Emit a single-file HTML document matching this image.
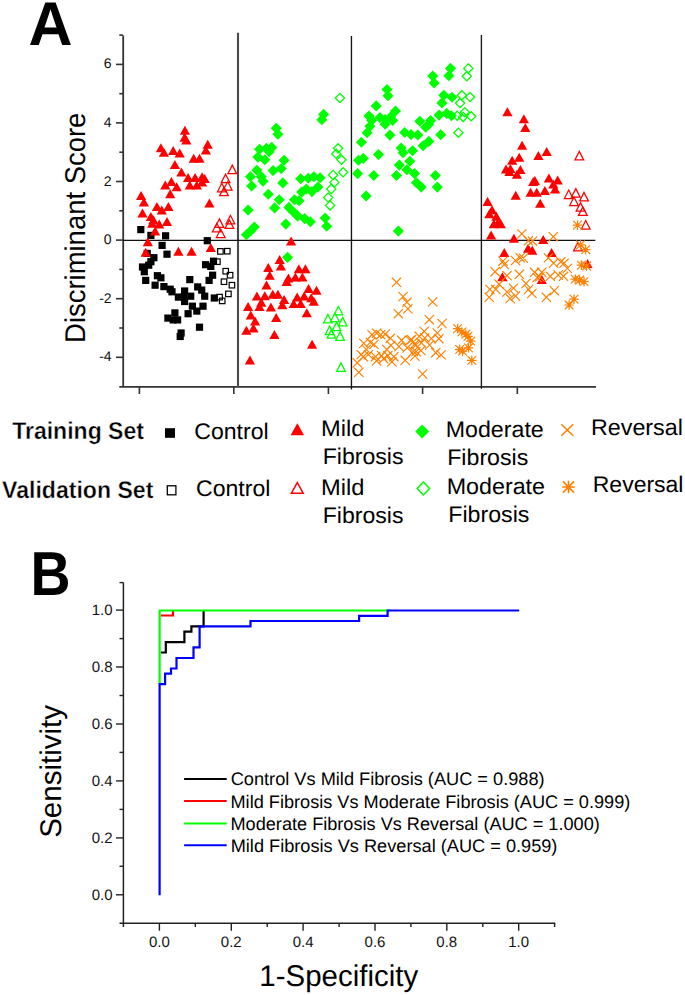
<!DOCTYPE html>
<html><head><meta charset="utf-8"><style>
html,body{margin:0;padding:0;background:#fff;}
svg{display:block;}
text{font-family:"Liberation Sans",sans-serif;fill:#000;text-rendering:geometricPrecision;}
.t13{font-size:14px;fill:#111;}
.t15{font-size:15px;fill:#111;}
.lb{font-size:22.6px;font-weight:bold;}
.lr{font-size:22.2px;}
.l16{font-size:16.6px;}
.l27{font-size:27.6px;}
.l28{font-size:28px;}
.l29{font-size:29px;}
.big{font-size:58px;font-weight:bold;}
</style></head><body>
<svg width="685" height="995" viewBox="0 0 685 995">
<rect width="685" height="995" fill="#fff"/>
<path d="M123.2 35.4V387" stroke="#333" stroke-width="1.8" fill="none"/><path d="M119.3 386.8H596" stroke="#333" stroke-width="1.8" fill="none"/><path d="M116 357.3H123" stroke="#333" stroke-width="1.6"/><path d="M116 298.7H123" stroke="#333" stroke-width="1.6"/><path d="M116 240.1H123" stroke="#333" stroke-width="1.6"/><path d="M116 181.5H123" stroke="#333" stroke-width="1.6"/><path d="M116 122.9H123" stroke="#333" stroke-width="1.6"/><path d="M116 64.4H123" stroke="#333" stroke-width="1.6"/><path d="M119.3 328.0H123" stroke="#333" stroke-width="1.6"/><path d="M119.3 269.4H123" stroke="#333" stroke-width="1.6"/><path d="M119.3 210.8H123" stroke="#333" stroke-width="1.6"/><path d="M119.3 152.2H123" stroke="#333" stroke-width="1.6"/><path d="M119.3 93.7H123" stroke="#333" stroke-width="1.6"/><path d="M119.3 35.1H123" stroke="#333" stroke-width="1.6"/><path d="M139.4 387V394" stroke="#333" stroke-width="1.6"/><path d="M233.8 387V394" stroke="#333" stroke-width="1.6"/><path d="M328.4 387V394" stroke="#333" stroke-width="1.6"/><path d="M422.6 387V394" stroke="#333" stroke-width="1.6"/><path d="M517.3 387V394" stroke="#333" stroke-width="1.6"/><path d="M238 32.7V387" stroke="#4a4a4a" stroke-width="2.1"/><path d="M351.45 35.9V389.6" stroke="#151515" stroke-width="1.35"/><path d="M481.4 35.1V388.8" stroke="#1e1e1e" stroke-width="1.4"/><path d="M123 240.4H595.3" stroke="#111" stroke-width="1.3"/>
<text x="111.6" y="361.3" text-anchor="end" class="t13">-4</text><text x="111.6" y="302.7" text-anchor="end" class="t13">-2</text><text x="111.6" y="244.2" text-anchor="end" class="t13">0</text><text x="111.6" y="185.6" text-anchor="end" class="t13">2</text><text x="111.6" y="127.0" text-anchor="end" class="t13">4</text><text x="111.6" y="68.4" text-anchor="end" class="t13">6</text>
<rect x="143.60" y="249.80" width="7.2" height="7.2" fill="#000"/><rect x="137.20" y="226.00" width="7.2" height="7.2" fill="#000"/><rect x="147.30" y="231.80" width="7.2" height="7.2" fill="#000"/><rect x="162.00" y="232.20" width="7.2" height="7.2" fill="#000"/><rect x="203.70" y="237.10" width="7.2" height="7.2" fill="#000"/><rect x="158.50" y="241.80" width="7.2" height="7.2" fill="#000"/><rect x="163.40" y="250.60" width="7.2" height="7.2" fill="#000"/><rect x="150.30" y="254.10" width="7.2" height="7.2" fill="#000"/><rect x="147.30" y="258.10" width="7.2" height="7.2" fill="#000"/><rect x="145.10" y="261.60" width="7.2" height="7.2" fill="#000"/><rect x="138.90" y="263.40" width="7.2" height="7.2" fill="#000"/><rect x="140.70" y="268.10" width="7.2" height="7.2" fill="#000"/><rect x="202.00" y="261.10" width="7.2" height="7.2" fill="#000"/><rect x="207.20" y="262.80" width="7.2" height="7.2" fill="#000"/><rect x="209.90" y="257.60" width="7.2" height="7.2" fill="#000"/><rect x="209.00" y="271.60" width="7.2" height="7.2" fill="#000"/><rect x="205.50" y="276.80" width="7.2" height="7.2" fill="#000"/><rect x="142.10" y="276.80" width="7.2" height="7.2" fill="#000"/><rect x="153.80" y="272.10" width="7.2" height="7.2" fill="#000"/><rect x="157.30" y="274.20" width="7.2" height="7.2" fill="#000"/><rect x="186.20" y="276.00" width="7.2" height="7.2" fill="#000"/><rect x="151.50" y="281.60" width="7.2" height="7.2" fill="#000"/><rect x="160.30" y="283.00" width="7.2" height="7.2" fill="#000"/><rect x="166.60" y="285.60" width="7.2" height="7.2" fill="#000"/><rect x="168.40" y="288.20" width="7.2" height="7.2" fill="#000"/><rect x="194.10" y="283.30" width="7.2" height="7.2" fill="#000"/><rect x="198.10" y="286.50" width="7.2" height="7.2" fill="#000"/><rect x="181.00" y="287.40" width="7.2" height="7.2" fill="#000"/><rect x="174.80" y="293.50" width="7.2" height="7.2" fill="#000"/><rect x="180.10" y="293.50" width="7.2" height="7.2" fill="#000"/><rect x="187.10" y="292.60" width="7.2" height="7.2" fill="#000"/><rect x="201.10" y="292.60" width="7.2" height="7.2" fill="#000"/><rect x="181.00" y="297.90" width="7.2" height="7.2" fill="#000"/><rect x="188.80" y="302.60" width="7.2" height="7.2" fill="#000"/><rect x="193.20" y="307.50" width="7.2" height="7.2" fill="#000"/><rect x="199.40" y="302.60" width="7.2" height="7.2" fill="#000"/><rect x="184.50" y="310.10" width="7.2" height="7.2" fill="#000"/><rect x="171.30" y="309.30" width="7.2" height="7.2" fill="#000"/><rect x="164.30" y="314.50" width="7.2" height="7.2" fill="#000"/><rect x="169.60" y="316.30" width="7.2" height="7.2" fill="#000"/><rect x="174.00" y="316.30" width="7.2" height="7.2" fill="#000"/><rect x="195.90" y="323.60" width="7.2" height="7.2" fill="#000"/><rect x="177.50" y="329.40" width="7.2" height="7.2" fill="#000"/><rect x="176.60" y="332.90" width="7.2" height="7.2" fill="#000"/><rect x="210.70" y="294.40" width="7.2" height="7.2" fill="#000"/><rect x="217.65" y="248.65" width="5.50" height="5.50" fill="none" stroke="#000" stroke-width="1.2"/><rect x="224.55" y="248.45" width="5.50" height="5.50" fill="none" stroke="#000" stroke-width="1.2"/><rect x="214.65" y="258.95" width="5.50" height="5.50" fill="none" stroke="#000" stroke-width="1.2"/><rect x="222.95" y="268.45" width="5.50" height="5.50" fill="none" stroke="#000" stroke-width="1.2"/><rect x="227.35" y="272.45" width="5.50" height="5.50" fill="none" stroke="#000" stroke-width="1.2"/><rect x="221.25" y="278.95" width="5.50" height="5.50" fill="none" stroke="#000" stroke-width="1.2"/><rect x="229.15" y="282.45" width="5.50" height="5.50" fill="none" stroke="#000" stroke-width="1.2"/><rect x="225.65" y="291.15" width="5.50" height="5.50" fill="none" stroke="#000" stroke-width="1.2"/><rect x="216.85" y="294.35" width="5.50" height="5.50" fill="none" stroke="#000" stroke-width="1.2"/><rect x="219.45" y="298.15" width="5.50" height="5.50" fill="none" stroke="#000" stroke-width="1.2"/><path d="M184.90 125.80L190.00 134.80L179.80 134.80Z" fill="#ff0000"/><path d="M184.60 132.80L189.70 141.80L179.50 141.80Z" fill="#ff0000"/><path d="M186.30 135.40L191.40 144.40L181.20 144.40Z" fill="#ff0000"/><path d="M160.90 143.30L166.00 152.30L155.80 152.30Z" fill="#ff0000"/><path d="M163.90 147.70L169.00 156.70L158.80 156.70Z" fill="#ff0000"/><path d="M173.20 146.00L178.30 155.00L168.10 155.00Z" fill="#ff0000"/><path d="M179.70 148.60L184.80 157.60L174.60 157.60Z" fill="#ff0000"/><path d="M207.70 139.80L212.80 148.80L202.60 148.80Z" fill="#ff0000"/><path d="M205.90 145.40L211.00 154.40L200.80 154.40Z" fill="#ff0000"/><path d="M193.70 153.80L198.80 162.80L188.60 162.80Z" fill="#ff0000"/><path d="M199.50 153.80L204.60 162.80L194.40 162.80Z" fill="#ff0000"/><path d="M174.90 160.00L180.00 169.00L169.80 169.00Z" fill="#ff0000"/><path d="M181.40 167.50L186.50 176.50L176.30 176.50Z" fill="#ff0000"/><path d="M188.10 173.10L193.20 182.10L183.00 182.10Z" fill="#ff0000"/><path d="M195.10 173.10L200.20 182.10L190.00 182.10Z" fill="#ff0000"/><path d="M202.10 172.20L207.20 181.20L197.00 181.20Z" fill="#ff0000"/><path d="M204.70 174.00L209.80 183.00L199.60 183.00Z" fill="#ff0000"/><path d="M189.80 180.50L194.90 189.50L184.70 189.50Z" fill="#ff0000"/><path d="M196.80 180.50L201.90 189.50L191.70 189.50Z" fill="#ff0000"/><path d="M202.10 177.50L207.20 186.50L197.00 186.50Z" fill="#ff0000"/><path d="M171.40 177.00L176.50 186.00L166.30 186.00Z" fill="#ff0000"/><path d="M165.30 180.50L170.40 189.50L160.20 189.50Z" fill="#ff0000"/><path d="M176.70 182.20L181.80 191.20L171.60 191.20Z" fill="#ff0000"/><path d="M170.20 189.20L175.30 198.20L165.10 198.20Z" fill="#ff0000"/><path d="M141.10 191.00L146.20 200.00L136.00 200.00Z" fill="#ff0000"/><path d="M143.90 197.60L149.00 206.60L138.80 206.60Z" fill="#ff0000"/><path d="M209.40 198.50L214.50 207.50L204.30 207.50Z" fill="#ff0000"/><path d="M156.90 202.00L162.00 211.00L151.80 211.00Z" fill="#ff0000"/><path d="M161.80 205.50L166.90 214.50L156.70 214.50Z" fill="#ff0000"/><path d="M168.40 202.00L173.50 211.00L163.30 211.00Z" fill="#ff0000"/><path d="M142.50 208.50L147.60 217.50L137.40 217.50Z" fill="#ff0000"/><path d="M150.90 212.00L156.00 221.00L145.80 221.00Z" fill="#ff0000"/><path d="M153.40 215.20L158.50 224.20L148.30 224.20Z" fill="#ff0000"/><path d="M152.20 218.70L157.30 227.70L147.10 227.70Z" fill="#ff0000"/><path d="M159.20 219.50L164.30 228.50L154.10 228.50Z" fill="#ff0000"/><path d="M167.00 216.90L172.10 225.90L161.90 225.90Z" fill="#ff0000"/><path d="M155.10 226.50L160.20 235.50L150.00 235.50Z" fill="#ff0000"/><path d="M147.80 237.20L152.90 246.20L142.70 246.20Z" fill="#ff0000"/><path d="M145.70 247.70L150.80 256.70L140.60 256.70Z" fill="#ff0000"/><path d="M178.40 246.80L183.50 255.80L173.30 255.80Z" fill="#ff0000"/><path d="M191.60 246.80L196.70 255.80L186.50 255.80Z" fill="#ff0000"/><path d="M210.80 243.00L215.90 252.00L205.70 252.00Z" fill="#ff0000"/><path d="M232.30 165.10L236.65 173.60L227.95 173.60Z" fill="none" stroke="#ff0000" stroke-width="1.25"/><path d="M225.60 174.20L229.95 182.70L221.25 182.70Z" fill="none" stroke="#ff0000" stroke-width="1.25"/><path d="M227.70 181.50L232.05 190.00L223.35 190.00Z" fill="none" stroke="#ff0000" stroke-width="1.25"/><path d="M221.80 183.30L226.15 191.80L217.45 191.80Z" fill="none" stroke="#ff0000" stroke-width="1.25"/><path d="M224.00 187.10L228.35 195.60L219.65 195.60Z" fill="none" stroke="#ff0000" stroke-width="1.25"/><path d="M230.40 215.30L234.75 223.80L226.05 223.80Z" fill="none" stroke="#ff0000" stroke-width="1.25"/><path d="M219.40 218.90L223.75 227.40L215.05 227.40Z" fill="none" stroke="#ff0000" stroke-width="1.25"/><path d="M229.40 219.90L233.75 228.40L225.05 228.40Z" fill="none" stroke="#ff0000" stroke-width="1.25"/><path d="M216.80 223.30L221.15 231.80L212.45 231.80Z" fill="none" stroke="#ff0000" stroke-width="1.25"/><path d="M220.70 229.00L225.05 237.50L216.35 237.50Z" fill="none" stroke="#ff0000" stroke-width="1.25"/><path d="M323.60 108.85L329.15 114.40L323.60 119.95L318.05 114.40Z" fill="#00ff00"/><path d="M321.80 114.25L327.35 119.80L321.80 125.35L316.25 119.80Z" fill="#00ff00"/><path d="M276.20 122.65L281.75 128.20L276.20 133.75L270.65 128.20Z" fill="#00ff00"/><path d="M277.90 128.75L283.45 134.30L277.90 139.85L272.35 134.30Z" fill="#00ff00"/><path d="M259.50 143.65L265.05 149.20L259.50 154.75L253.95 149.20Z" fill="#00ff00"/><path d="M266.50 142.75L272.05 148.30L266.50 153.85L260.95 148.30Z" fill="#00ff00"/><path d="M271.80 141.85L277.35 147.40L271.80 152.95L266.25 147.40Z" fill="#00ff00"/><path d="M269.20 146.25L274.75 151.80L269.20 157.35L263.65 151.80Z" fill="#00ff00"/><path d="M257.80 151.55L263.35 157.10L257.80 162.65L252.25 157.10Z" fill="#00ff00"/><path d="M264.80 154.15L270.35 159.70L264.80 165.25L259.25 159.70Z" fill="#00ff00"/><path d="M284.10 154.65L289.65 160.20L284.10 165.75L278.55 160.20Z" fill="#00ff00"/><path d="M256.90 164.65L262.45 170.20L256.90 175.75L251.35 170.20Z" fill="#00ff00"/><path d="M273.10 165.05L278.65 170.60L273.10 176.15L267.55 170.60Z" fill="#00ff00"/><path d="M281.20 163.05L286.75 168.60L281.20 174.15L275.65 168.60Z" fill="#00ff00"/><path d="M250.40 171.15L255.95 176.70L250.40 182.25L244.85 176.70Z" fill="#00ff00"/><path d="M261.30 171.15L266.85 176.70L261.30 182.25L255.75 176.70Z" fill="#00ff00"/><path d="M263.00 175.75L268.55 181.30L263.00 186.85L257.45 181.30Z" fill="#00ff00"/><path d="M251.60 180.45L257.15 186.00L251.60 191.55L246.05 186.00Z" fill="#00ff00"/><path d="M282.80 177.35L288.35 182.90L282.80 188.45L277.25 182.90Z" fill="#00ff00"/><path d="M300.70 173.25L306.25 178.80L300.70 184.35L295.15 178.80Z" fill="#00ff00"/><path d="M308.30 172.75L313.85 178.30L308.30 183.85L302.75 178.30Z" fill="#00ff00"/><path d="M313.90 171.25L319.45 176.80L313.90 182.35L308.35 176.80Z" fill="#00ff00"/><path d="M320.10 172.25L325.65 177.80L320.10 183.35L314.55 177.80Z" fill="#00ff00"/><path d="M318.00 181.45L323.55 187.00L318.00 192.55L312.45 187.00Z" fill="#00ff00"/><path d="M311.90 186.05L317.45 191.60L311.90 197.15L306.35 191.60Z" fill="#00ff00"/><path d="M306.30 183.45L311.85 189.00L306.30 194.55L300.75 189.00Z" fill="#00ff00"/><path d="M301.70 186.55L307.25 192.10L301.70 197.65L296.15 192.10Z" fill="#00ff00"/><path d="M268.30 188.65L273.85 194.20L268.30 199.75L262.75 194.20Z" fill="#00ff00"/><path d="M279.20 194.15L284.75 199.70L279.20 205.25L273.65 199.70Z" fill="#00ff00"/><path d="M294.50 194.15L300.05 199.70L294.50 205.25L288.95 199.70Z" fill="#00ff00"/><path d="M299.10 195.25L304.65 200.80L299.10 206.35L293.55 200.80Z" fill="#00ff00"/><path d="M274.60 202.35L280.15 207.90L274.60 213.45L269.05 207.90Z" fill="#00ff00"/><path d="M288.90 201.85L294.45 207.40L288.90 212.95L283.35 207.40Z" fill="#00ff00"/><path d="M293.50 206.45L299.05 212.00L293.50 217.55L287.95 212.00Z" fill="#00ff00"/><path d="M297.60 210.55L303.15 216.10L297.60 221.65L292.05 216.10Z" fill="#00ff00"/><path d="M304.70 213.05L310.25 218.60L304.70 224.15L299.15 218.60Z" fill="#00ff00"/><path d="M310.40 216.15L315.95 221.70L310.40 227.25L304.85 221.70Z" fill="#00ff00"/><path d="M285.80 218.55L291.35 224.10L285.80 229.65L280.25 224.10Z" fill="#00ff00"/><path d="M325.20 212.55L330.75 218.10L325.20 223.65L319.65 218.10Z" fill="#00ff00"/><path d="M326.70 220.75L332.25 226.30L326.70 231.85L321.15 226.30Z" fill="#00ff00"/><path d="M248.10 204.55L253.65 210.10L248.10 215.65L242.55 210.10Z" fill="#00ff00"/><path d="M254.30 221.45L259.85 227.00L254.30 232.55L248.75 227.00Z" fill="#00ff00"/><path d="M250.80 225.25L256.35 230.80L250.80 236.35L245.25 230.80Z" fill="#00ff00"/><path d="M246.40 229.15L251.95 234.70L246.40 240.25L240.85 234.70Z" fill="#00ff00"/><path d="M287.60 251.85L293.15 257.40L287.60 262.95L282.05 257.40Z" fill="#00ff00"/><path d="M339.90 93.40L344.50 98.00L339.90 102.60L335.30 98.00Z" fill="none" stroke="#00ff00" stroke-width="1.3"/><path d="M338.10 143.70L342.70 148.30L338.10 152.90L333.50 148.30Z" fill="none" stroke="#00ff00" stroke-width="1.3"/><path d="M336.30 149.20L340.90 153.80L336.30 158.40L331.70 153.80Z" fill="none" stroke="#00ff00" stroke-width="1.3"/><path d="M341.50 155.20L346.10 159.80L341.50 164.40L336.90 159.80Z" fill="none" stroke="#00ff00" stroke-width="1.3"/><path d="M343.10 167.70L347.70 172.30L343.10 176.90L338.50 172.30Z" fill="none" stroke="#00ff00" stroke-width="1.3"/><path d="M333.10 170.40L337.70 175.00L333.10 179.60L328.50 175.00Z" fill="none" stroke="#00ff00" stroke-width="1.3"/><path d="M334.40 177.80L339.00 182.40L334.40 187.00L329.80 182.40Z" fill="none" stroke="#00ff00" stroke-width="1.3"/><path d="M331.30 184.40L335.90 189.00L331.30 193.60L326.70 189.00Z" fill="none" stroke="#00ff00" stroke-width="1.3"/><path d="M328.20 192.90L332.80 197.50L328.20 202.10L323.60 197.50Z" fill="none" stroke="#00ff00" stroke-width="1.3"/><path d="M330.10 200.80L334.70 205.40L330.10 210.00L325.50 205.40Z" fill="none" stroke="#00ff00" stroke-width="1.3"/><path d="M291.10 236.60L296.20 245.60L286.00 245.60Z" fill="#ff0000"/><path d="M279.70 255.00L284.80 264.00L274.60 264.00Z" fill="#ff0000"/><path d="M280.90 261.50L286.00 270.50L275.80 270.50Z" fill="#ff0000"/><path d="M268.30 262.90L273.40 271.90L263.20 271.90Z" fill="#ff0000"/><path d="M269.70 270.80L274.80 279.80L264.60 279.80Z" fill="#ff0000"/><path d="M298.90 264.30L304.00 273.30L293.80 273.30Z" fill="#ff0000"/><path d="M305.40 264.30L310.50 273.30L300.30 273.30Z" fill="#ff0000"/><path d="M295.40 272.50L300.50 281.50L290.30 281.50Z" fill="#ff0000"/><path d="M302.40 272.50L307.50 281.50L297.30 281.50Z" fill="#ff0000"/><path d="M288.40 273.40L293.50 282.40L283.30 282.40Z" fill="#ff0000"/><path d="M286.70 276.90L291.80 285.90L281.60 285.90Z" fill="#ff0000"/><path d="M266.50 280.40L271.60 289.40L261.40 289.40Z" fill="#ff0000"/><path d="M308.60 283.90L313.70 292.90L303.50 292.90Z" fill="#ff0000"/><path d="M316.50 285.70L321.60 294.70L311.40 294.70Z" fill="#ff0000"/><path d="M256.90 291.60L262.00 300.60L251.80 300.60Z" fill="#ff0000"/><path d="M264.80 291.20L269.90 300.20L259.70 300.20Z" fill="#ff0000"/><path d="M272.70 289.80L277.80 298.80L267.60 298.80Z" fill="#ff0000"/><path d="M277.90 289.80L283.00 298.80L272.80 298.80Z" fill="#ff0000"/><path d="M284.10 295.10L289.20 304.10L279.00 304.10Z" fill="#ff0000"/><path d="M297.20 292.50L302.30 301.50L292.10 301.50Z" fill="#ff0000"/><path d="M304.20 291.60L309.30 300.60L299.10 300.60Z" fill="#ff0000"/><path d="M311.20 293.30L316.30 302.30L306.10 302.30Z" fill="#ff0000"/><path d="M313.80 296.80L318.90 305.80L308.70 305.80Z" fill="#ff0000"/><path d="M261.30 297.70L266.40 306.70L256.20 306.70Z" fill="#ff0000"/><path d="M259.50 302.10L264.60 311.10L254.40 311.10Z" fill="#ff0000"/><path d="M270.90 302.40L276.00 311.40L265.80 311.40Z" fill="#ff0000"/><path d="M282.30 300.30L287.40 309.30L277.20 309.30Z" fill="#ff0000"/><path d="M293.70 298.90L298.80 307.90L288.60 307.90Z" fill="#ff0000"/><path d="M300.70 298.90L305.80 307.90L295.60 307.90Z" fill="#ff0000"/><path d="M248.10 302.10L253.20 311.10L243.00 311.10Z" fill="#ff0000"/><path d="M250.80 310.50L255.90 319.50L245.70 319.50Z" fill="#ff0000"/><path d="M255.10 316.50L260.20 325.50L250.00 325.50Z" fill="#ff0000"/><path d="M253.40 323.50L258.50 332.50L248.30 332.50Z" fill="#ff0000"/><path d="M246.40 325.70L251.50 334.70L241.30 334.70Z" fill="#ff0000"/><path d="M276.20 313.00L281.30 322.00L271.10 322.00Z" fill="#ff0000"/><path d="M306.80 308.20L311.90 317.20L301.70 317.20Z" fill="#ff0000"/><path d="M274.40 330.10L279.50 339.10L269.30 339.10Z" fill="#ff0000"/><path d="M312.10 339.80L317.20 348.80L307.00 348.80Z" fill="#ff0000"/><path d="M249.90 355.50L255.00 364.50L244.80 364.50Z" fill="#ff0000"/><path d="M338.40 306.30L342.75 314.80L334.05 314.80Z" fill="none" stroke="#00ff00" stroke-width="1.25"/><path d="M327.90 314.40L332.25 322.90L323.55 322.90Z" fill="none" stroke="#00ff00" stroke-width="1.25"/><path d="M334.90 313.00L339.25 321.50L330.55 321.50Z" fill="none" stroke="#00ff00" stroke-width="1.25"/><path d="M342.70 317.40L347.05 325.90L338.35 325.90Z" fill="none" stroke="#00ff00" stroke-width="1.25"/><path d="M336.60 322.10L340.95 330.60L332.25 330.60Z" fill="none" stroke="#00ff00" stroke-width="1.25"/><path d="M329.60 326.10L333.95 334.60L325.25 334.60Z" fill="none" stroke="#00ff00" stroke-width="1.25"/><path d="M331.40 329.70L335.75 338.20L327.05 338.20Z" fill="none" stroke="#00ff00" stroke-width="1.25"/><path d="M340.10 331.90L344.45 340.40L335.75 340.40Z" fill="none" stroke="#00ff00" stroke-width="1.25"/><path d="M341.00 362.90L345.35 371.40L336.65 371.40Z" fill="none" stroke="#00ff00" stroke-width="1.25"/><path d="M450.50 62.85L456.05 68.40L450.50 73.95L444.95 68.40Z" fill="#00ff00"/><path d="M448.80 70.25L454.35 75.80L448.80 81.35L443.25 75.80Z" fill="#00ff00"/><path d="M432.70 70.45L438.25 76.00L432.70 81.55L427.15 76.00Z" fill="#00ff00"/><path d="M434.10 77.45L439.65 83.00L434.10 88.55L428.55 83.00Z" fill="#00ff00"/><path d="M443.80 89.75L449.35 95.30L443.80 100.85L438.25 95.30Z" fill="#00ff00"/><path d="M452.00 91.75L457.55 97.30L452.00 102.85L446.45 97.30Z" fill="#00ff00"/><path d="M442.00 97.35L447.55 102.90L442.00 108.45L436.45 102.90Z" fill="#00ff00"/><path d="M439.10 109.55L444.65 115.10L439.10 120.65L433.55 115.10Z" fill="#00ff00"/><path d="M446.70 107.85L452.25 113.40L446.70 118.95L441.15 113.40Z" fill="#00ff00"/><path d="M451.40 110.15L456.95 115.70L451.40 121.25L445.85 115.70Z" fill="#00ff00"/><path d="M419.80 115.65L425.35 121.20L419.80 126.75L414.25 121.20Z" fill="#00ff00"/><path d="M430.60 115.05L436.15 120.60L430.60 126.15L425.05 120.60Z" fill="#00ff00"/><path d="M425.60 121.65L431.15 127.20L425.60 132.75L420.05 127.20Z" fill="#00ff00"/><path d="M428.60 119.05L434.15 124.60L428.60 130.15L423.05 124.60Z" fill="#00ff00"/><path d="M404.70 126.95L410.25 132.50L404.70 138.05L399.15 132.50Z" fill="#00ff00"/><path d="M411.00 129.05L416.55 134.60L411.00 140.15L405.45 134.60Z" fill="#00ff00"/><path d="M417.80 129.45L423.35 135.00L417.80 140.55L412.25 135.00Z" fill="#00ff00"/><path d="M440.70 129.25L446.25 134.80L440.70 140.35L435.15 134.80Z" fill="#00ff00"/><path d="M387.00 83.95L392.55 89.50L387.00 95.05L381.45 89.50Z" fill="#00ff00"/><path d="M388.00 90.25L393.55 95.80L388.00 101.35L382.45 95.80Z" fill="#00ff00"/><path d="M376.20 100.35L381.75 105.90L376.20 111.45L370.65 105.90Z" fill="#00ff00"/><path d="M369.00 110.55L374.55 116.10L369.00 121.65L363.45 116.10Z" fill="#00ff00"/><path d="M371.80 114.95L377.35 120.50L371.80 126.05L366.25 120.50Z" fill="#00ff00"/><path d="M369.90 120.65L375.45 126.20L369.90 131.75L364.35 126.20Z" fill="#00ff00"/><path d="M367.10 127.25L372.65 132.80L367.10 138.35L361.55 132.80Z" fill="#00ff00"/><path d="M361.40 136.75L366.95 142.30L361.40 147.85L355.85 142.30Z" fill="#00ff00"/><path d="M380.00 112.05L385.55 117.60L380.00 123.15L374.45 117.60Z" fill="#00ff00"/><path d="M385.10 113.95L390.65 119.50L385.10 125.05L379.55 119.50Z" fill="#00ff00"/><path d="M385.10 118.75L390.65 124.30L385.10 129.85L379.55 124.30Z" fill="#00ff00"/><path d="M392.70 114.95L398.25 120.50L392.70 126.05L387.15 120.50Z" fill="#00ff00"/><path d="M395.50 105.45L401.05 111.00L395.50 116.55L389.95 111.00Z" fill="#00ff00"/><path d="M390.80 111.15L396.35 116.70L390.80 122.25L385.25 116.70Z" fill="#00ff00"/><path d="M389.90 129.55L395.45 135.10L389.90 140.65L384.35 135.10Z" fill="#00ff00"/><path d="M428.80 135.85L434.35 141.40L428.80 146.95L423.25 141.40Z" fill="#00ff00"/><path d="M423.10 140.15L428.65 145.70L423.10 151.25L417.55 145.70Z" fill="#00ff00"/><path d="M412.60 145.25L418.15 150.80L412.60 156.35L407.05 150.80Z" fill="#00ff00"/><path d="M401.20 142.45L406.75 148.00L401.20 153.55L395.65 148.00Z" fill="#00ff00"/><path d="M403.10 147.15L408.65 152.70L403.10 158.25L397.55 152.70Z" fill="#00ff00"/><path d="M378.50 149.05L384.05 154.60L378.50 160.15L372.95 154.60Z" fill="#00ff00"/><path d="M363.30 152.85L368.85 158.40L363.30 163.95L357.75 158.40Z" fill="#00ff00"/><path d="M358.50 154.75L364.05 160.30L358.50 165.85L352.95 160.30Z" fill="#00ff00"/><path d="M357.60 168.05L363.15 173.60L357.60 179.15L352.05 173.60Z" fill="#00ff00"/><path d="M373.70 169.95L379.25 175.50L373.70 181.05L368.15 175.50Z" fill="#00ff00"/><path d="M396.50 169.95L402.05 175.50L396.50 181.05L390.95 175.50Z" fill="#00ff00"/><path d="M399.30 159.55L404.85 165.10L399.30 170.65L393.75 165.10Z" fill="#00ff00"/><path d="M406.90 164.25L412.45 169.80L406.90 175.35L401.35 169.80Z" fill="#00ff00"/><path d="M409.80 155.75L415.35 161.30L409.80 166.85L404.25 161.30Z" fill="#00ff00"/><path d="M414.50 168.05L420.05 173.60L414.50 179.15L408.95 173.60Z" fill="#00ff00"/><path d="M435.40 169.95L440.95 175.50L435.40 181.05L429.85 175.50Z" fill="#00ff00"/><path d="M366.10 190.45L371.65 196.00L366.10 201.55L360.55 196.00Z" fill="#00ff00"/><path d="M416.40 177.15L421.95 182.70L416.40 188.25L410.85 182.70Z" fill="#00ff00"/><path d="M421.20 181.55L426.75 187.10L421.20 192.65L415.65 187.10Z" fill="#00ff00"/><path d="M437.30 181.55L442.85 187.10L437.30 192.65L431.75 187.10Z" fill="#00ff00"/><path d="M398.40 225.55L403.95 231.10L398.40 236.65L392.85 231.10Z" fill="#00ff00"/><path d="M468.30 63.80L472.90 68.40L468.30 73.00L463.70 68.40Z" fill="none" stroke="#00ff00" stroke-width="1.3"/><path d="M466.80 71.70L471.40 76.30L466.80 80.90L462.20 76.30Z" fill="none" stroke="#00ff00" stroke-width="1.3"/><path d="M461.90 90.70L466.50 95.30L461.90 99.90L457.30 95.30Z" fill="none" stroke="#00ff00" stroke-width="1.3"/><path d="M470.10 92.40L474.70 97.00L470.10 101.60L465.50 97.00Z" fill="none" stroke="#00ff00" stroke-width="1.3"/><path d="M460.10 98.50L464.70 103.10L460.10 107.70L455.50 103.10Z" fill="none" stroke="#00ff00" stroke-width="1.3"/><path d="M464.80 107.60L469.40 112.20L464.80 116.80L460.20 112.20Z" fill="none" stroke="#00ff00" stroke-width="1.3"/><path d="M457.20 111.10L461.80 115.70L457.20 120.30L452.60 115.70Z" fill="none" stroke="#00ff00" stroke-width="1.3"/><path d="M463.10 112.30L467.70 116.90L463.10 121.50L458.50 116.90Z" fill="none" stroke="#00ff00" stroke-width="1.3"/><path d="M471.20 111.70L475.80 116.30L471.20 120.90L466.60 116.30Z" fill="none" stroke="#00ff00" stroke-width="1.3"/><path d="M458.40 128.10L463.00 132.70L458.40 137.30L453.80 132.70Z" fill="none" stroke="#00ff00" stroke-width="1.3"/><g stroke="#ff8000" stroke-width="1.15" stroke-linecap="round" fill="none"><path d="M392.20 278.00L400.80 286.60M400.80 278.00L392.20 286.60"/><path d="M398.80 292.30L407.40 300.90M407.40 292.30L398.80 300.90"/><path d="M402.60 298.00L411.20 306.60M411.20 298.00L402.60 306.60"/><path d="M403.60 304.60L412.20 313.20M412.20 304.60L403.60 313.20"/><path d="M394.10 309.40L402.70 318.00M402.70 309.40L394.10 318.00"/><path d="M428.30 297.60L436.90 306.20M436.90 297.60L428.30 306.20"/><path d="M425.00 315.40L433.60 324.00M433.60 315.40L425.00 324.00"/><path d="M437.70 319.20L446.30 327.80M446.30 319.20L437.70 327.80"/><path d="M418.30 369.70L426.90 378.30M426.90 369.70L418.30 378.30"/><path d="M354.50 368.00L363.10 376.60M363.10 368.00L354.50 376.60"/><path d="M352.90 358.50L361.50 367.10M361.50 358.50L352.90 367.10"/><path d="M359.50 339.10L368.10 347.70M368.10 339.10L359.50 347.70"/><path d="M367.70 330.40L376.30 339.00M376.30 330.40L367.70 339.00"/><path d="M372.30 328.90L380.90 337.50M380.90 328.90L372.30 337.50"/><path d="M381.00 329.90L389.60 338.50M389.60 329.90L381.00 338.50"/><path d="M376.40 330.40L385.00 339.00M385.00 330.40L376.40 339.00"/><path d="M386.10 334.00L394.70 342.60M394.70 334.00L386.10 342.60"/><path d="M366.10 338.10L374.70 346.70M374.70 338.10L366.10 346.70"/><path d="M369.70 340.10L378.30 348.70M378.30 340.10L369.70 348.70"/><path d="M362.00 345.20L370.60 353.80M370.60 345.20L362.00 353.80"/><path d="M356.90 350.30L365.50 358.90M365.50 350.30L356.90 358.90"/><path d="M359.00 352.40L367.60 361.00M367.60 352.40L359.00 361.00"/><path d="M364.10 350.30L372.70 358.90M372.70 350.30L364.10 358.90"/><path d="M371.20 352.40L379.80 361.00M379.80 352.40L371.20 361.00"/><path d="M372.30 356.50L380.90 365.10M380.90 356.50L372.30 365.10"/><path d="M377.40 351.40L386.00 360.00M386.00 351.40L377.40 360.00"/><path d="M382.50 345.20L391.10 353.80M391.10 345.20L382.50 353.80"/><path d="M379.40 354.40L388.00 363.00M388.00 354.40L379.40 363.00"/><path d="M383.50 351.40L392.10 360.00M392.10 351.40L383.50 360.00"/><path d="M387.60 357.50L396.20 366.10M396.20 357.50L387.60 366.10"/><path d="M389.60 352.40L398.20 361.00M398.20 352.40L389.60 361.00"/><path d="M386.60 341.10L395.20 349.70M395.20 341.10L386.60 349.70"/><path d="M397.30 336.00L405.90 344.60M405.90 336.00L397.30 344.60"/><path d="M394.70 342.20L403.30 350.80M403.30 342.20L394.70 350.80"/><path d="M400.90 356.00L409.50 364.60M409.50 356.00L400.90 364.60"/><path d="M406.00 336.00L414.60 344.60M414.60 336.00L406.00 344.60"/><path d="M411.10 341.10L419.70 349.70M419.70 341.10L411.10 349.70"/><path d="M409.10 347.30L417.70 355.90M417.70 347.30L409.10 355.90"/><path d="M419.90 327.10L428.50 335.70M428.50 327.10L419.90 335.70"/><path d="M433.00 328.70L441.60 337.30M441.60 328.70L433.00 337.30"/><path d="M434.60 334.40L443.20 343.00M443.20 334.40L434.60 343.00"/><path d="M427.00 334.20L435.60 342.80M435.60 334.20L427.00 342.80"/><path d="M420.40 333.60L429.00 342.20M429.00 333.60L420.40 342.20"/><path d="M414.90 332.00L423.50 340.60M423.50 332.00L414.90 340.60"/><path d="M407.30 335.30L415.90 343.90M415.90 335.30L407.30 343.90"/><path d="M402.90 343.50L411.50 352.10M411.50 343.50L402.90 352.10"/><path d="M410.60 339.60L419.20 348.20M419.20 339.60L410.60 348.20"/><path d="M417.10 338.50L425.70 347.10M425.70 338.50L417.10 347.10"/><path d="M425.30 340.70L433.90 349.30M433.90 340.70L425.30 349.30"/><path d="M411.70 347.30L420.30 355.90M420.30 347.30L411.70 355.90"/><path d="M416.60 346.20L425.20 354.80M425.20 346.20L416.60 354.80"/><path d="M410.60 351.70L419.20 360.30M419.20 351.70L410.60 360.30"/><path d="M431.40 348.40L440.00 357.00M440.00 348.40L431.40 357.00"/><path d="M436.80 350.60L445.40 359.20M445.40 350.60L436.80 359.20"/></g><g stroke="#ff8000" stroke-width="1.2" stroke-linecap="round" fill="none"><path d="M457.60 324.30V332.90M453.60 324.60L461.60 332.60M461.60 324.60L453.60 332.60M453.30 328.60H461.90"/><path d="M461.90 327.60V336.20M457.90 327.90L465.90 335.90M465.90 327.90L457.90 335.90M457.60 331.90H466.20"/><path d="M465.80 329.80V338.40M461.80 330.10L469.80 338.10M469.80 330.10L461.80 338.10M461.50 334.10H470.10"/><path d="M468.00 332.00V340.60M464.00 332.30L472.00 340.30M472.00 332.30L464.00 340.30M463.70 336.30H472.30"/><path d="M470.70 336.90V345.50M466.70 337.20L474.70 345.20M474.70 337.20L466.70 345.20M466.40 341.20H475.00"/><path d="M468.50 343.50V352.10M464.50 343.80L472.50 351.80M472.50 343.80L464.50 351.80M464.20 347.80H472.80"/><path d="M459.70 345.10V353.70M455.70 345.40L463.70 353.40M463.70 345.40L455.70 353.40M455.40 349.40H464.00"/><path d="M462.50 346.80V355.40M458.50 347.10L466.50 355.10M466.50 347.10L458.50 355.10M458.20 351.10H466.80"/><path d="M471.80 356.10V364.70M467.80 356.40L475.80 364.40M475.80 356.40L467.80 364.40M467.50 360.40H476.10"/></g><path d="M507.40 107.20L512.50 116.20L502.30 116.20Z" fill="#ff0000"/><path d="M523.90 114.20L529.00 123.20L518.80 123.20Z" fill="#ff0000"/><path d="M525.30 123.00L530.40 132.00L520.20 132.00Z" fill="#ff0000"/><path d="M522.10 140.80L527.20 149.80L517.00 149.80Z" fill="#ff0000"/><path d="M538.40 151.00L543.50 160.00L533.30 160.00Z" fill="#ff0000"/><path d="M546.70 147.00L551.80 156.00L541.60 156.00Z" fill="#ff0000"/><path d="M519.20 152.80L524.30 161.80L514.10 161.80Z" fill="#ff0000"/><path d="M512.20 155.70L517.30 164.70L507.10 164.70Z" fill="#ff0000"/><path d="M506.00 164.50L511.10 173.50L500.90 173.50Z" fill="#ff0000"/><path d="M510.40 164.00L515.50 173.00L505.30 173.00Z" fill="#ff0000"/><path d="M509.50 167.10L514.60 176.10L504.40 176.10Z" fill="#ff0000"/><path d="M520.40 165.00L525.50 174.00L515.30 174.00Z" fill="#ff0000"/><path d="M516.90 169.80L522.00 178.80L511.80 178.80Z" fill="#ff0000"/><path d="M534.90 175.90L540.00 184.90L529.80 184.90Z" fill="#ff0000"/><path d="M533.20 177.10L538.30 186.10L528.10 186.10Z" fill="#ff0000"/><path d="M548.90 173.50L554.00 182.50L543.80 182.50Z" fill="#ff0000"/><path d="M557.70 175.50L562.80 184.50L552.60 184.50Z" fill="#ff0000"/><path d="M553.30 179.40L558.40 188.40L548.20 188.40Z" fill="#ff0000"/><path d="M530.60 187.80L535.70 196.80L525.50 196.80Z" fill="#ff0000"/><path d="M536.70 187.80L541.80 196.80L531.60 196.80Z" fill="#ff0000"/><path d="M544.90 186.10L550.00 195.10L539.80 195.10Z" fill="#ff0000"/><path d="M555.10 184.60L560.20 193.60L550.00 193.60Z" fill="#ff0000"/><path d="M515.70 190.80L520.80 199.80L510.60 199.80Z" fill="#ff0000"/><path d="M540.20 198.70L545.30 207.70L535.10 207.70Z" fill="#ff0000"/><path d="M487.60 196.90L492.70 205.90L482.50 205.90Z" fill="#ff0000"/><path d="M492.00 205.30L497.10 214.30L486.90 214.30Z" fill="#ff0000"/><path d="M489.40 209.20L494.50 218.20L484.30 218.20Z" fill="#ff0000"/><path d="M496.40 211.80L501.50 220.80L491.30 220.80Z" fill="#ff0000"/><path d="M498.10 217.50L503.20 226.50L493.00 226.50Z" fill="#ff0000"/><path d="M500.80 219.20L505.90 228.20L495.70 228.20Z" fill="#ff0000"/><path d="M493.80 219.20L498.90 228.20L488.70 228.20Z" fill="#ff0000"/><path d="M491.10 230.60L496.20 239.60L486.00 239.60Z" fill="#ff0000"/><path d="M513.90 233.70L519.00 242.70L508.80 242.70Z" fill="#ff0000"/><path d="M543.20 235.00L548.30 244.00L538.10 244.00Z" fill="#ff0000"/><path d="M528.10 243.70L533.20 252.70L523.00 252.70Z" fill="#ff0000"/><path d="M532.30 245.70L537.40 254.70L527.20 254.70Z" fill="#ff0000"/><path d="M504.30 248.10L509.40 257.10L499.20 257.10Z" fill="#ff0000"/><path d="M551.60 247.90L556.70 256.90L546.50 256.90Z" fill="#ff0000"/><path d="M502.40 272.20L507.50 281.20L497.30 281.20Z" fill="#ff0000"/><path d="M541.80 274.90L546.90 283.90L536.70 283.90Z" fill="#ff0000"/><path d="M587.50 259.00L592.60 268.00L582.40 268.00Z" fill="#ff0000"/><path d="M579.30 151.40L583.65 159.90L574.95 159.90Z" fill="none" stroke="#ff0000" stroke-width="1.25"/><path d="M568.70 190.00L573.05 198.50L564.35 198.50Z" fill="none" stroke="#ff0000" stroke-width="1.25"/><path d="M575.80 188.60L580.15 197.10L571.45 197.10Z" fill="none" stroke="#ff0000" stroke-width="1.25"/><path d="M584.00 192.40L588.35 200.90L579.65 200.90Z" fill="none" stroke="#ff0000" stroke-width="1.25"/><path d="M574.00 197.00L578.35 205.50L569.65 205.50Z" fill="none" stroke="#ff0000" stroke-width="1.25"/><path d="M580.50 202.60L584.85 211.10L576.15 211.10Z" fill="none" stroke="#ff0000" stroke-width="1.25"/><path d="M582.80 206.90L587.15 215.40L578.45 215.40Z" fill="none" stroke="#ff0000" stroke-width="1.25"/><path d="M585.70 220.50L590.05 229.00L581.35 229.00Z" fill="none" stroke="#ff0000" stroke-width="1.25"/><path d="M577.90 242.40L582.25 250.90L573.55 250.90Z" fill="none" stroke="#ff0000" stroke-width="1.25"/><g stroke="#ff8000" stroke-width="1.15" stroke-linecap="round" fill="none"><path d="M517.50 229.60L526.10 238.20M526.10 229.60L517.50 238.20"/><path d="M524.10 236.50L532.70 245.10M532.70 236.50L524.10 245.10"/><path d="M528.20 236.90L536.80 245.50M536.80 236.90L528.20 245.50"/><path d="M549.00 232.40L557.60 241.00M557.60 232.40L549.00 241.00"/><path d="M515.90 253.40L524.50 262.00M524.50 253.40L515.90 262.00"/><path d="M498.70 256.90L507.30 265.50M507.30 256.90L498.70 265.50"/><path d="M500.00 260.20L508.60 268.80M508.60 260.20L500.00 268.80"/><path d="M511.20 256.20L519.80 264.80M519.80 256.20L511.20 264.80"/><path d="M519.10 253.80L527.70 262.40M527.70 253.80L519.10 262.40"/><path d="M490.80 267.40L499.40 276.00M499.40 267.40L490.80 276.00"/><path d="M502.70 271.30L511.30 279.90M511.30 271.30L502.70 279.90"/><path d="M515.10 270.00L523.70 278.60M523.70 270.00L515.10 278.60"/><path d="M530.30 268.00L538.90 276.60M538.90 268.00L530.30 276.60"/><path d="M537.50 268.00L546.10 276.60M546.10 268.00L537.50 276.60"/><path d="M535.50 272.60L544.10 281.20M544.10 272.60L535.50 281.20"/><path d="M544.10 253.60L552.70 262.20M552.70 253.60L544.10 262.20"/><path d="M549.30 258.80L557.90 267.40M557.90 258.80L549.30 267.40"/><path d="M556.50 257.50L565.10 266.10M565.10 257.50L556.50 266.10"/><path d="M559.80 258.80L568.40 267.40M568.40 258.80L559.80 267.40"/><path d="M546.00 272.00L554.60 280.60M554.60 272.00L546.00 280.60"/><path d="M553.90 270.70L562.50 279.30M562.50 270.70L553.90 279.30"/><path d="M559.20 272.00L567.80 280.60M567.80 272.00L559.20 280.60"/><path d="M485.60 285.10L494.20 293.70M494.20 285.10L485.60 293.70"/><path d="M484.90 293.00L493.50 301.60M493.50 293.00L484.90 301.60"/><path d="M491.50 285.10L500.10 293.70M500.10 285.10L491.50 293.70"/><path d="M494.80 279.90L503.40 288.50M503.40 279.90L494.80 288.50"/><path d="M502.70 287.70L511.30 296.30M511.30 287.70L502.70 296.30"/><path d="M509.20 283.80L517.80 292.40M517.80 283.80L509.20 292.40"/><path d="M505.90 294.30L514.50 302.90M514.50 294.30L505.90 302.90"/><path d="M511.20 291.70L519.80 300.30M519.80 291.70L511.20 300.30"/><path d="M521.70 279.20L530.30 287.80M530.30 279.20L521.70 287.80"/><path d="M524.30 285.10L532.90 293.70M532.90 285.10L524.30 293.70"/><path d="M527.60 289.10L536.20 297.70M536.20 289.10L527.60 297.70"/><path d="M532.90 273.30L541.50 281.90M541.50 273.30L532.90 281.90"/><path d="M542.10 293.00L550.70 301.60M550.70 293.00L542.10 301.60"/><path d="M550.00 286.40L558.60 295.00M558.60 286.40L550.00 295.00"/><path d="M563.10 264.10L571.70 272.70M571.70 264.10L563.10 272.70"/></g><g stroke="#ff8000" stroke-width="1.2" stroke-linecap="round" fill="none"><path d="M577.50 220.80V229.40M573.50 221.10L581.50 229.10M581.50 221.10L573.50 229.10M573.20 225.10H581.80"/><path d="M580.50 240.60V249.20M576.50 240.90L584.50 248.90M584.50 240.90L576.50 248.90M576.20 244.90H584.80"/><path d="M585.70 245.40V254.00M581.70 245.70L589.70 253.70M589.70 245.70L581.70 253.70M581.40 249.70H590.00"/><path d="M581.40 260.80V269.40M577.40 261.10L585.40 269.10M585.40 261.10L577.40 269.10M577.10 265.10H585.70"/><path d="M586.60 261.70V270.30M582.60 262.00L590.60 270.00M590.60 262.00L582.60 270.00M582.30 266.00H590.90"/><path d="M575.20 274.80V283.40M571.20 275.10L579.20 283.10M579.20 275.10L571.20 283.10M570.90 279.10H579.50"/><path d="M579.60 275.70V284.30M575.60 276.00L583.60 284.00M583.60 276.00L575.60 284.00M575.30 280.00H583.90"/><path d="M584.00 277.40V286.00M580.00 277.70L588.00 285.70M588.00 277.70L580.00 285.70M579.70 281.70H588.30"/><path d="M574.00 294.90V303.50M570.00 295.20L578.00 303.20M578.00 295.20L570.00 303.20M569.70 299.20H578.30"/><path d="M569.10 300.70V309.30M565.10 301.00L573.10 309.00M573.10 301.00L565.10 309.00M564.80 305.00H573.40"/></g>
<rect x="165" y="428.2" width="10" height="9.6" fill="#000"/><rect x="167.3" y="485.8" width="8.6" height="9" fill="none" stroke="#000" stroke-width="1.3"/><path d="M297.3 423.3L304.1 435.2L290.6 435.2Z" fill="#ff0000"/><path d="M297.3 482.6L303.2 493.2L291.4 493.2Z" fill="none" stroke="#ff0000" stroke-width="1.5"/><path d="M422.2 424.5L429.2 431.5L422.2 438.5L415.2 431.5Z" fill="#00ff00"/><path d="M423.4 482L429.6 488.5L423.4 495L417.2 488.5Z" fill="none" stroke="#00ff00" stroke-width="1.5"/><path d="M561.3 424.3L573.2 435.8M573.2 424.3L561.3 435.8" stroke="#ff8000" stroke-width="1.5" fill="none"/><g stroke="#ff8000" stroke-width="1.6" fill="none"><path d="M568.50 480.70V493.30M562.90 481.40L574.10 492.60M574.10 481.40L562.90 492.60M562.20 487.00H574.80"/></g>
<path d="M123.4 582.4V927" stroke="#222" stroke-width="1.5" fill="none"/><path d="M119.5 923.3H555.3" stroke="#222" stroke-width="1.5" fill="none"/><path d="M119.5 582.6H123.4" stroke="#222" stroke-width="1.4"/><path d="M116 894.8H123.4" stroke="#222" stroke-width="1.4"/><text x="112.6" y="899.6" text-anchor="end" class="t15">0.0</text><path d="M116 837.9H123.4" stroke="#222" stroke-width="1.4"/><text x="112.6" y="842.7" text-anchor="end" class="t15">0.2</text><path d="M116 780.9H123.4" stroke="#222" stroke-width="1.4"/><text x="112.6" y="785.7" text-anchor="end" class="t15">0.4</text><path d="M116 724.0H123.4" stroke="#222" stroke-width="1.4"/><text x="112.6" y="728.8" text-anchor="end" class="t15">0.6</text><path d="M116 667.0H123.4" stroke="#222" stroke-width="1.4"/><text x="112.6" y="671.8" text-anchor="end" class="t15">0.8</text><path d="M116 610.1H123.4" stroke="#222" stroke-width="1.4"/><text x="112.6" y="614.9" text-anchor="end" class="t15">1.0</text><path d="M119.5 866.3H123.4" stroke="#222" stroke-width="1.4"/><path d="M119.5 809.4H123.4" stroke="#222" stroke-width="1.4"/><path d="M119.5 752.4H123.4" stroke="#222" stroke-width="1.4"/><path d="M119.5 695.5H123.4" stroke="#222" stroke-width="1.4"/><path d="M119.5 638.6H123.4" stroke="#222" stroke-width="1.4"/><path d="M159.4 923.3V930.7" stroke="#222" stroke-width="1.4"/><text x="159.4" y="946.9" text-anchor="middle" class="t15">0.0</text><path d="M231.3 923.3V930.7" stroke="#222" stroke-width="1.4"/><text x="231.3" y="946.9" text-anchor="middle" class="t15">0.2</text><path d="M303.1 923.3V930.7" stroke="#222" stroke-width="1.4"/><text x="303.1" y="946.9" text-anchor="middle" class="t15">0.4</text><path d="M375.0 923.3V930.7" stroke="#222" stroke-width="1.4"/><text x="375.0" y="946.9" text-anchor="middle" class="t15">0.6</text><path d="M446.8 923.3V930.7" stroke="#222" stroke-width="1.4"/><text x="446.8" y="946.9" text-anchor="middle" class="t15">0.8</text><path d="M518.7 923.3V930.7" stroke="#222" stroke-width="1.4"/><text x="518.7" y="946.9" text-anchor="middle" class="t15">1.0</text><path d="M195.3 923.3V927" stroke="#222" stroke-width="1.4"/><path d="M267.2 923.3V927" stroke="#222" stroke-width="1.4"/><path d="M339.1 923.3V927" stroke="#222" stroke-width="1.4"/><path d="M410.9 923.3V927" stroke="#222" stroke-width="1.4"/><path d="M482.8 923.3V927" stroke="#222" stroke-width="1.4"/><path d="M554.6 923.3V927" stroke="#222" stroke-width="1.4"/><g fill="none" stroke-width="2.2" stroke-linejoin="miter" stroke-linecap="butt"><path d="M160.7 652.5H165.8V642.2H184.4V631.7H191.4V626.4H203.6V610.5" stroke="#000"/><path d="M160.7 615.5H173V610.5" stroke="#ff0000"/><path d="M159.6 683.5V610.5H390" stroke="#00ff00"/><path d="M159.6 895.3V684.2H165.1V673.7H171V668.5H176.5V658H193.5V647.4H199.6V626.4H250.5V621H359.1V615.9H387.6V610.5H519.2" stroke="#0000ff"/></g><path d="M184.1 778.9H226.7" stroke="#000" stroke-width="2"/><path d="M184.1 801.1H226.7" stroke="#ff0000" stroke-width="2"/><path d="M184.1 823.4H226.7" stroke="#00ff00" stroke-width="2"/><path d="M184.1 845.3H226.7" stroke="#0000ff" stroke-width="2"/>

<text transform="translate(28.38 44.72) scale(1.0501 1.0624)" style="font-size:58px;font-weight:bold;">A</text><text transform="translate(30.49 594.77) scale(0.9566 1.0699)" style="font-size:58px;font-weight:bold;">B</text><text transform="translate(12.13 439.44) scale(1.0013 1.0576)" style="font-size:23px;font-weight:bold;" stroke="#fff" stroke-width="0.35">Training Set</text><text transform="translate(2.08 498.32) scale(1.0031 1.0486)" style="font-size:23px;font-weight:bold;" stroke="#fff" stroke-width="0.35">Validation Set</text><text transform="translate(194.28 438.74) scale(1.0252 1.0050)" style="font-size:22.5px;">Control</text><text transform="translate(195.98 496.44) scale(1.0252 1.0050)" style="font-size:22.5px;">Control</text><text transform="translate(321.11 436.02) scale(1.0520 1.0050)" style="font-size:22.5px;">Mild</text><text transform="translate(322.75 464.45) scale(1.0246 1.0050)" style="font-size:22.5px;">Fibrosis</text><text transform="translate(321.11 494.82) scale(1.0520 1.0050)" style="font-size:22.5px;">Mild</text><text transform="translate(322.75 522.84) scale(1.0246 1.0050)" style="font-size:22.5px;">Fibrosis</text><text transform="translate(445.76 436.94) scale(1.0307 1.0050)" style="font-size:22.5px;">Moderate</text><text transform="translate(447.22 465.04) scale(1.0291 1.0050)" style="font-size:22.5px;">Fibrosis</text><text transform="translate(446.65 493.94) scale(1.0346 1.0050)" style="font-size:22.5px;">Moderate</text><text transform="translate(448.29 522.14) scale(1.0301 1.0050)" style="font-size:22.5px;">Fibrosis</text><text transform="translate(590.95 435.15) scale(1.0354 1.0050)" style="font-size:22.5px;">Reversal</text><text transform="translate(592.76 492.44) scale(1.0217 1.0050)" style="font-size:22.5px;">Reversal</text><text transform="translate(85.07 342.93) scale(1.0377 0.9979) rotate(-90)" style="font-size:27.5px;">Discriminant Score</text><text transform="translate(61.05 837.85) scale(1.0302 1.0178) rotate(-90)" style="font-size:29px;">Sensitivity</text><text transform="translate(259.36 985.60) scale(1.0521 1.0708)" style="font-size:28px;">1-Specificity</text><text transform="translate(230.65 785.42) scale(1.0005 0.9960)" style="font-size:18.2px;">Control Vs Mild Fibrosis (AUC = 0.988)</text><text transform="translate(230.50 807.67) scale(0.9976 0.9960)" style="font-size:18.2px;">Mild Fibrosis Vs Moderate Fibrosis (AUC = 0.999)</text><text transform="translate(230.51 829.61) scale(0.9968 0.9960)" style="font-size:18.2px;">Moderate Fibrosis Vs Reversal (AUC = 1.000)</text><text transform="translate(230.68 851.76) scale(0.9993 0.9960)" style="font-size:18.2px;">Mild Fibrosis Vs Reversal (AUC = 0.959)</text>
</svg>
</body></html>
